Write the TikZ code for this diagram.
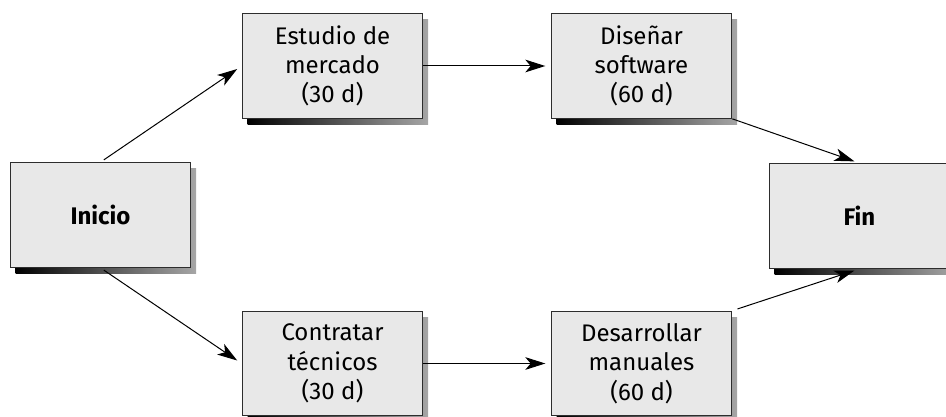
\documentclass[tikz,border=0pt]{standalone}
\usepackage{fontspec}
\setmainfont{Fira Sans}
\usepackage{tikz}
\usetikzlibrary{arrows.meta,shadows}
\definecolor{boxfill}{RGB}{232,232,232}
\definecolor{boxline}{RGB}{45,45,45}

\begin{document}
\begin{tikzpicture}[x=0.75pt, y=-0.75pt, >={Stealth[length=15pt, width=9.5pt, inset=4pt]},
  every node/.style={font=\fontsize{18}{22}\selectfont},
  task/.style={draw=boxline, line width=0.8pt, fill=boxfill, minimum width=135.5pt, minimum height=78.5pt, align=center, inner sep=0pt,
    general shadow={shadow xshift=4pt, shadow yshift=-4.5pt, left color=black, right color=black!35}},
  link/.style={->, line width=0.75pt, shorten >=4pt}]
\useasboundingbox (0,0) rectangle (946,417);
\node[task, font=\fontsize{18}{22}\selectfont\bfseries] (inicio) at (100.5,215) {Inicio};
\node[task] (estudio) at (332.5,66) {Estudio de\\mercado\\(30 d)};
\node[task] (disenar) at (641.5,66) {Diseñar\\software\\(60 d)};
\node[task] (contratar) at (332.5,363.5) {Contratar\\técnicos\\(30 d)};
\node[task] (desarrollar) at (641.5,363.5) {Desarrollar\\manuales\\(60 d)};
\node[task, font=\fontsize{18}{22}\selectfont\bfseries] (fin) at (859.5,216) {Fin};
\draw[link, shorten <=3pt] (inicio.north) -- (estudio.west);
\draw[link] (estudio.east) -- (disenar.west);
\draw[link] (disenar.south east) -- (fin.north);
\draw[link, shorten <=3pt] (inicio.south) -- (contratar.west);
\draw[link] (contratar.east) -- (desarrollar.west);
\draw[link, shorten <=4pt] (desarrollar.north east) -- (fin.south);
\end{tikzpicture}
\end{document}
